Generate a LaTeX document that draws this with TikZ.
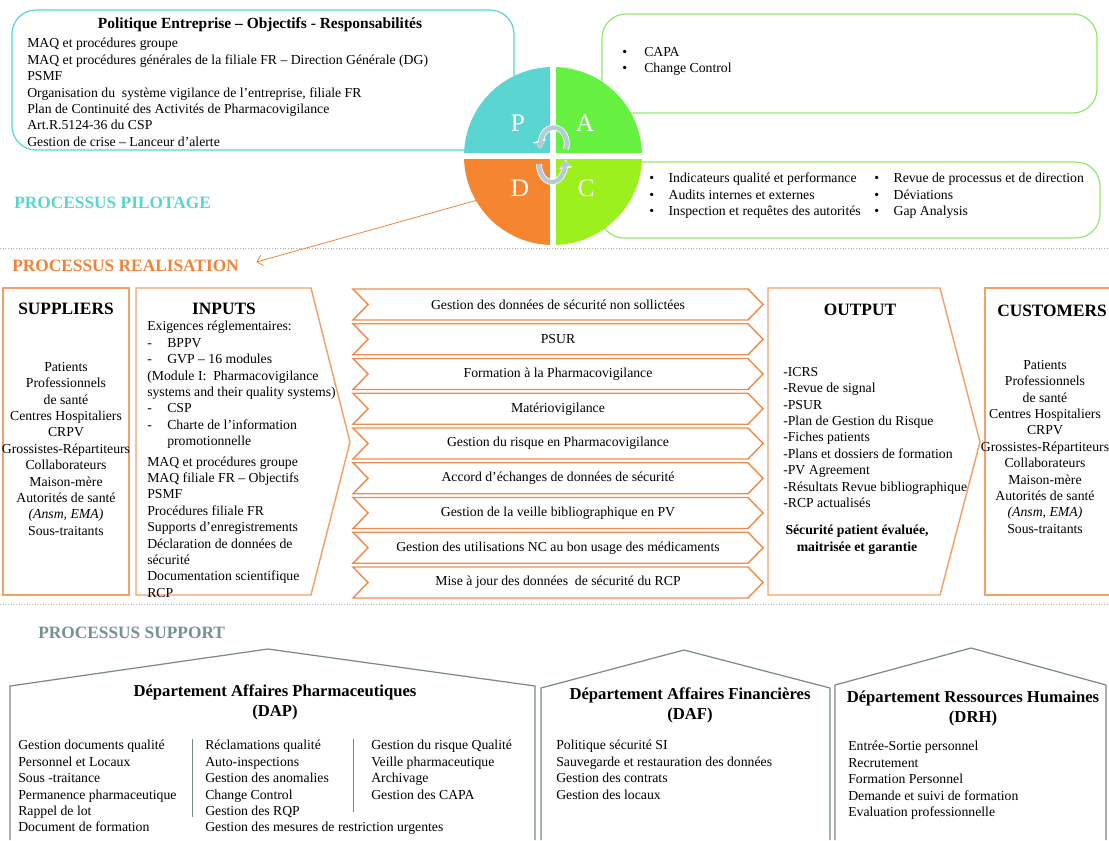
\documentclass[tikz,border=0pt]{standalone}
\usepackage{fontspec}
\setmainfont{Liberation Serif}
\usetikzlibrary{arrows.meta}

\definecolor{pilotcol}{RGB}{88,214,205}
\definecolor{realcol}{RGB}{240,130,55}
\definecolor{suppcol}{RGB}{118,145,145}
\definecolor{pcol}{RGB}{91,213,210}
\definecolor{acol}{RGB}{102,240,64}
\definecolor{dcol}{RGB}{245,133,47}
\definecolor{ccol}{RGB}{155,240,30}
\definecolor{greencol}{RGB}{150,230,110}
\definecolor{ordcol}{RGB}{244,160,105}
\definecolor{chevcol}{RGB}{240,140,75}
\definecolor{housecol}{RGB}{120,135,135}
\definecolor{cyccol}{RGB}{180,202,212}

\newcommand\bodysize{\fontsize{10.3}{12.3}\selectfont}
\newcommand\listdash{\makebox[15pt][l]{-}}
\newcommand\listbul[1][14.5pt]{\makebox[#1][l]{\textbullet}}

\begin{document}
\begin{tikzpicture}[x=0.75pt,y=-0.75pt,
  body/.style={font=\bodysize, inner sep=0pt, align=left},
  head/.style={font=\fontsize{13}{15}\selectfont\bfseries, inner sep=0pt},
  section/.style={font=\fontsize{13}{15}\selectfont\bfseries, inner sep=0pt, anchor=west},
  housetitle/.style={font=\fontsize{12.5}{15}\selectfont\bfseries, inner sep=0pt, align=center, anchor=north},
  pilbox/.style={draw=pilotcol, line width=0.9pt, rounded corners=18pt},
  actbox/.style={draw=greencol, line width=0.9pt, rounded corners=18pt},
  ordbox/.style={draw=ordcol, line width=1.1pt},
  chev/.style={draw=chevcol, line width=1.1pt},
  house/.style={draw=housecol, line width=0.9pt},
  sepline/.style={draw=gray!65, line width=0.6pt, dash pattern=on 0.8pt off 1.2pt},
  quad/.style={text=white, font=\fontsize{19}{19}\selectfont, inner sep=0pt},
  cyc/.style={draw=cyccol, line width=3.2pt, -{Triangle[length=5pt, width=8pt]},
    preaction={draw=white, line width=4.4pt, -{Triangle[length=6pt, width=9.5pt]}}}]
\useasboundingbox (0,0) rectangle (1109,840);

\draw[pilbox] (12,10) rectangle (514,150);
\node[body, font=\fontsize{11.6}{14}\selectfont\bfseries] (poltitle) at (260,25) {Politique Entreprise – Objectifs - Responsabilités};
\node[body, anchor=north west] (pollist) at (27,38) {MAQ et procédures groupe\\ MAQ et procédures générales de la filiale FR – Direction Générale (DG)\\ PSMF\\ Organisation du~ système vigilance de l’entreprise, filiale FR\\ Plan de Continuité des Activités de Pharmacovigilance\\ Art.R.5124-36 du CSP\\ Gestion de crise – Lanceur d’alerte};

\draw[actbox] (602,14) rectangle (1097,113);
\node[body, anchor=north west] (actlist) at (622,47) {\listbul[16.5pt]CAPA\\ \listbul[16.5pt]Change Control};
\draw[actbox] (600,162) rectangle (1100,238);
\node[body, anchor=north west] (chk1) at (649,173) {\listbul Indicateurs qualité et performance\\ \listbul Audits internes et externes\\ \listbul Inspection et requêtes des autorités};
\node[body, anchor=north west] (chk2) at (874,173) {\listbul Revue de processus et de direction\\ \listbul Déviations\\ \listbul Gap Analysis};

\node[circle, minimum size=133.5pt, inner sep=0pt, outer sep=0pt] (pdca) at (553,156) {};
\fill[pcol] (pdca.center) -- ++(-89,0) arc[start angle=180, end angle=270, radius=89] -- cycle;
\fill[acol] (pdca.center) -- ++(0,-89) arc[start angle=270, end angle=360, radius=89] -- cycle;
\fill[ccol] (pdca.center) -- ++(89,0) arc[start angle=0, end angle=90, radius=89] -- cycle;
\fill[dcol] (pdca.center) -- ++(0,89) arc[start angle=90, end angle=180, radius=89] -- cycle;
\draw[white, line width=3.8pt] (pdca.north) -- (pdca.south) (pdca.west) -- (pdca.east);
\node[quad] (lp) at (518,123) {P};
\node[quad] (la) at (585,123) {A};
\node[quad] (ld) at (520,188) {D};
\node[quad] (lc) at (586,188) {C};
\draw[cyc] (566,149) arc[start angle=20, end angle=-198, x radius=13, y radius=16];
\draw[cyc] (539,164) arc[start angle=180, end angle=-12, x radius=13, y radius=18];

\node[section, pilotcol] (pilot) at (14,203) {PROCESSUS PILOTAGE};
\draw[sepline] (0,248) -- (1109,248);
\node[section, realcol] (realis) at (12,266) {PROCESSUS REALISATION};
\draw[realcol, line width=0.6pt, -{Straight Barb[length=4pt]}] (pdca.210) -- ([xshift=13pt, yshift=3pt]realis.east);

\draw[ordbox] (3,288) rectangle (129,595);
\node[head] (suppliers) at (66,309) {SUPPLIERS};
\node[body, align=center, anchor=north] (supplist) at (66,362) {Patients\\ Professionnels\\ de santé\\ Centres Hospitaliers\\ CRPV\\ Grossistes-Répartiteurs\\ Collaborateurs\\ Maison-mère\\ Autorités de santé\\ \textit{(Ansm, EMA)}\\ Sous-traitants};

\draw[ordbox] (136,288) -- (311,288) -- (350,442) -- (311,595) -- (136,595) -- cycle;
\node[head] (inputs) at (224,309) {INPUTS};
\node[body, anchor=north west] (inlist) at (147,321) {Exigences réglementaires:\\ \listdash BPPV\\ \listdash GVP – 16 modules\\ (Module I:~ Pharmacovigilance\\ systems and their quality systems)\\ \listdash CSP\\ \listdash Charte de l’information\\ \hspace*{15pt}promotionnelle\\[3pt] MAQ et procédures groupe\\ MAQ filiale FR – Objectifs\\ PSMF\\ Procédures filiale FR\\ Supports d’enregistrements\\ Déclaration de données de\\ sécurité\\ Documentation scientifique\\ RCP};

\foreach \t [count=\i from 0] in {Gestion des données de sécurité non sollictées, PSUR, Formation à la Pharmacovigilance, Matériovigilance, Gestion du risque en Pharmacovigilance, Accord d’échanges de données de sécurité, Gestion de la veille bibliographique en PV, Gestion des utilisations NC au bon usage des médicaments, Mise à jour des données~ de sécurité du RCP}{
  \pgfmathsetmacro\yt{289+34.75*\i}
  \draw[chev] (353,\yt) -- (748,\yt) -- (763,\yt+15.5) -- (748,\yt+31) -- (353,\yt+31) -- (368,\yt+15.5) -- cycle;
  \node[body] (proc\i) at (558,\yt+15.5) {\t};
}

\draw[ordbox] (768,288) -- (940,288) -- (980,442) -- (940,595) -- (768,595) -- cycle;
\node[head] (output) at (860,310) {OUTPUT};
\node[body, anchor=north west] (outlist) at (783,367) {-ICRS\\ -Revue de signal\\ -PSUR\\ -Plan de Gestion du Risque\\ -Fiches patients\\ -Plans et dossiers de formation\\ -PV Agreement\\ -Résultats Revue bibliographique\\ -RCP actualisés};
\node[body, align=center, anchor=north, font=\bodysize\bfseries] (outbold) at (857,525) {Sécurité patient évaluée,\\ maitrisée et garantie};

\draw[ordbox] (1109,288) -- (985,288) -- (985,595) -- (1109,595);
\node[head] (customers) at (1052,311) {CUSTOMERS};
\node[body, align=center, anchor=north] (custlist) at (1045,360) {Patients\\ Professionnels\\ de santé\\ Centres Hospitaliers\\ CRPV\\ Grossistes-Répartiteurs\\ Collaborateurs\\ Maison-mère\\ Autorités de santé\\ \textit{(Ansm, EMA)}\\ Sous-traitants};

\draw[sepline] (0,604) -- (1109,604);
\node[section, suppcol] (support) at (38,633) {PROCESSUS SUPPORT};

\draw[house] (10,840) -- (10,686) -- (268,649) -- (535,686) -- (535,840);
\node[housetitle] (dap) at (275,684) {Département Affaires Pharmaceutiques\\ (DAP)};
\node[body, anchor=north west] (dap1) at (18,740) {Gestion documents qualité\\ Personnel et Locaux\\ Sous -traitance\\ Permanence pharmaceutique\\ Rappel de lot\\ Document de formation};
\node[body, anchor=north west] (dap2) at (205,740) {Réclamations qualité\\ Auto-inspections\\ Gestion des anomalies\\ Change Control\\ Gestion des RQP\\ Gestion des mesures de restriction urgentes};
\node[body, anchor=north west] (dap3) at (371,740) {Gestion du risque Qualité\\ Veille pharmaceutique\\ Archivage\\ Gestion des CAPA};
\draw[house, line width=0.5pt] (192,739) -- (192,817) (353,739) -- (353,812);

\draw[house] (541,840) -- (541,688) -- (684,650) -- (830,688) -- (830,840);
\node[housetitle] (daf) at (690,687) {Département Affaires Financières\\ (DAF)};
\node[body, anchor=north west] (daflist) at (556,740) {Politique sécurité SI\\ Sauvegarde et restauration des données\\ Gestion des contrats\\ Gestion des locaux};

\draw[house] (835,840) -- (835,685) -- (971,648) -- (1106,685) -- (1106,840);
\node[housetitle] (drh) at (973,691) {Département Ressources Humaines\\ (DRH)};
\node[body, anchor=north west] (drhlist) at (848,741) {Entrée-Sortie personnel\\ Recrutement\\ Formation Personnel\\ Demande et suivi de formation\\ Evaluation professionnelle};
\end{tikzpicture}
\end{document}
